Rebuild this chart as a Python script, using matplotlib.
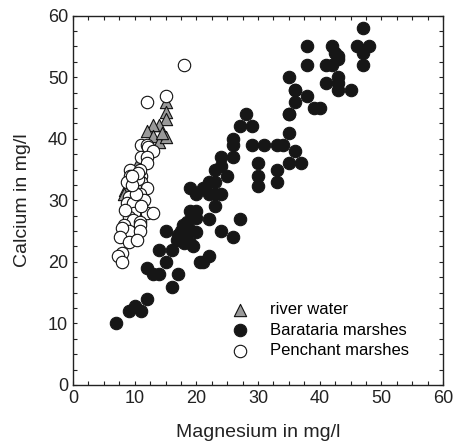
import numpy as np
import matplotlib.pyplot as plt
from matplotlib.ticker import MultipleLocator

plt.rcParams['font.family'] = ['Liberation Sans', 'DejaVu Sans']

# river water (triangles)
river_mg = [15, 15, 15, 14, 13, 12, 13, 14, 15, 14.5, 10.6, 8.4, 8.2]
river_ca = [46, 44.3, 43.2, 42.2, 42.2, 41.2, 40.5, 39.4, 40.3, 41.0, 36, 31.7, 31]

# Barataria marshes (filled circles)
bar_mg = [7, 9.1, 10, 11, 12, 12, 13, 14, 14, 15, 16, 16, 17, 15, 20.6, 22, 21,
          16.8, 17.1, 17.9, 18.2, 19, 19, 20, 19, 20, 20, 18.5, 17.5, 19.5, 18,
          22, 27, 24, 26, 19, 20, 21, 22, 23, 24, 23, 22, 23, 23, 24, 25, 24, 26,
          26, 26, 27, 28, 29, 29, 31, 33, 30, 30, 30, 33, 33, 34, 35, 35, 35, 36,
          36, 36, 35, 37,
          47, 38, 42, 42.5, 43, 43, 46, 48, 47, 47, 38, 41, 42, 43, 43, 43, 41,
          45, 36, 38, 39, 40, 35]
bar_ca = [10, 12, 12.8, 12, 14, 19, 18, 18, 22, 20, 22, 16, 18, 25, 20, 21, 20,
          23.6, 24.4, 26, 24.1, 25.2, 23, 24.9, 28.2, 28.2, 27.1, 26.5, 25, 22.5, 23,
          27, 27, 25, 24, 32, 31, 32, 31, 31, 31, 29, 33, 33, 35, 35.5, 34, 37, 37,
          39, 40, 42, 44, 42, 39, 39, 39, 36, 34, 32.3, 35, 33, 39, 41, 44, 50, 48,
          46, 38, 36, 36,
          58, 55, 55, 54, 53.5, 53, 55, 55, 54, 52, 52, 52, 52, 50, 49, 48, 49,
          48, 48, 47, 45, 45, 44]

# Penchant marshes (open circles)
pen_mg = [18, 12, 15, 11, 12, 12.2, 13, 11, 12, 12, 9.2, 9.2, 11, 11, 8.7, 12,
          10, 10.9, 10.9, 10, 9, 8.8, 9.8, 12, 13, 9.9, 9, 9.8, 10.9, 8.2, 10.9,
          9, 10.9, 7.9, 7.6, 9, 10.3, 7.9, 7.3, 7.9, 10.5, 11.5, 10.2, 9.5, 11,
          8.5, 10.5, 9.5]
pen_ca = [52, 46, 47, 39, 39, 38.7, 38, 37, 37, 36, 35, 34, 34, 33, 33, 32,
          32, 35, 31, 30, 30.5, 29.5, 29.5, 28, 28, 28, 27.3, 26.8, 26.5, 26, 26,
          25, 25, 25.5, 24, 23.3, 23.6, 21.4, 21, 20, 33.5, 30, 31, 32.5, 29,
          28.5, 34.5, 34]

fig = plt.figure(figsize=(4.54, 4.44), dpi=100)
ax = fig.add_axes([0.1608, 0.1329, 0.815, 0.8318])

ax.scatter(river_mg, river_ca, marker='^', s=78, facecolor='#999999',
           edgecolor='#111111', linewidth=0.8, label='river water', zorder=2)
ax.scatter(bar_mg, bar_ca, marker='o', s=80, facecolor='#161616',
           edgecolor='#161616', linewidth=0.8, label='Barataria marshes', zorder=3)
ax.scatter(pen_mg, pen_ca, marker='o', s=80, facecolor='white',
           edgecolor='#111111', linewidth=0.8, label='Penchant marshes', zorder=4)

ax.set_xlim(0, 60)
ax.set_ylim(0, 60)
ax.xaxis.set_major_locator(MultipleLocator(10))
ax.yaxis.set_major_locator(MultipleLocator(10))
ax.xaxis.set_minor_locator(MultipleLocator(2.5))
ax.yaxis.set_minor_locator(MultipleLocator(2.5))
ax.tick_params(which='both', direction='in', top=True, right=True,
               length=3, width=0.8, labelsize=13, colors='#222222')
for s in ax.spines.values():
    s.set_linewidth(1.0)
    s.set_color('#222222')

ax.set_xlabel('Magnesium in mg/l', fontsize=14, color='#222222', labelpad=12)
ax.set_ylabel('Calcium in mg/l', fontsize=14, color='#222222', labelpad=12)

ax.legend(loc='upper left', bbox_to_anchor=(0.405, 0.224), frameon=False,
          fontsize=12, borderpad=0, borderaxespad=0, labelspacing=0.33,
          handletextpad=0.8, scatterpoints=1)

fig.savefig('out.png', dpi=100)
